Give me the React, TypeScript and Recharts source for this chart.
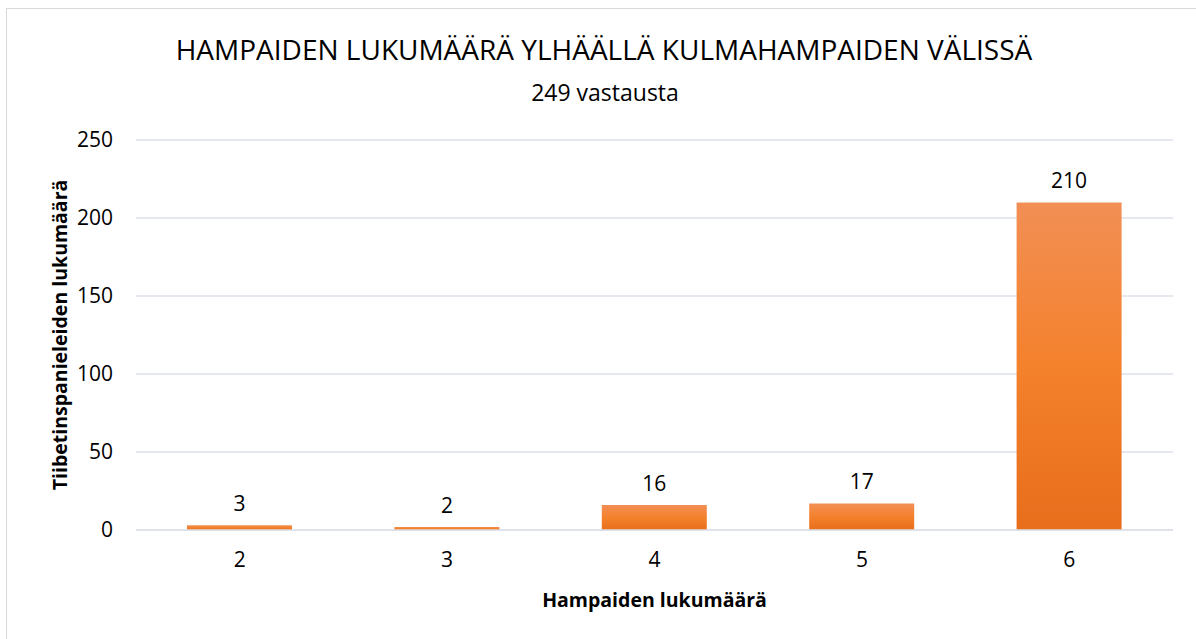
import React from "react";
import { BarChart, Bar, XAxis, YAxis, CartesianGrid, LabelList } from "recharts";

const teethCounts = ["2", "3", "4", "5", "6"];
const dogCounts = [3, 2, 16, 17, 210];
const yTicks = [0, 50, 100, 150, 200, 250];

const data = teethCounts.map((t, i) => ({ teeth: t, dogs: dogCounts[i] }));

const font = "'Open Sans', sans-serif";
const tickStyle = { fill: "#000", fontSize: 21, fontFamily: font };

export default function App() {
  return (
    <div
      style={{
        position: "absolute",
        left: 0,
        top: 0,
        width: 1196,
        height: 639,
        background: "#fff",
        overflow: "hidden",
        fontFamily: font,
      }}
    >
      <div
        style={{
          position: "absolute",
          left: 6,
          top: 8,
          width: 1200,
          height: 640,
          border: "1px solid #d9d9d9",
        }}
      />
      <div
        style={{
          position: "absolute",
          left: 0,
          top: 30,
          width: 1208,
          textAlign: "center",
          fontSize: 28,
          lineHeight: "38px",
          color: "#000",
        }}
      >
        HAMPAIDEN LUKUMÄÄRÄ YLHÄÄLLÄ KULMAHAMPAIDEN VÄLISSÄ
      </div>
      <div
        style={{
          position: "absolute",
          left: 0,
          top: 76,
          width: 1210,
          textAlign: "center",
          fontSize: 23,
          lineHeight: "32px",
          color: "#000",
        }}
      >
        249 vastausta
      </div>
      <div style={{ position: "absolute", left: 0, top: 0 }}>
        <BarChart
          width={1196}
          height={639}
          data={data}
          margin={{ top: 140, right: 23, left: 56, bottom: 79 }}
        >
          <defs>
            <linearGradient id="barFill" x1="0" y1="0" x2="0" y2="1">
              <stop offset="0%" stopColor="#f28f55" />
              <stop offset="50%" stopColor="#f4812c" />
              <stop offset="100%" stopColor="#e86e1c" />
            </linearGradient>
          </defs>
          <CartesianGrid vertical={false} stroke="#dde1e8" strokeWidth={1.5} />
          <XAxis
            dataKey="teeth"
            height={30}
            tick={tickStyle}
            tickLine={false}
            axisLine={{ stroke: "#dde1e8", strokeWidth: 1.5 }}
            tickMargin={16}
            label={{
              value: "Hampaiden lukumäärä",
              position: "insideBottom",
              offset: -47,
              style: { fill: "#000", fontSize: 19.5, fontWeight: 700, fontFamily: font },
            }}
          />
          <YAxis
            width={80}
            domain={[0, 250]}
            ticks={yTicks}
            tick={tickStyle}
            tickLine={false}
            axisLine={false}
            tickMargin={17}
            label={{
              value: "Tiibetinspanieleiden lukumäärä",
              angle: -90,
              position: "insideLeft",
              offset: 4,
              style: {
                fill: "#000",
                fontSize: 19.5,
                fontWeight: 700,
                fontFamily: font,
                textAnchor: "middle",
              },
            }}
          />
          <Bar dataKey="dogs" fill="url(#barFill)" barSize={105} isAnimationActive={false}>
            <LabelList
              dataKey="dogs"
              position="top"
              offset={14}
              style={{ fill: "#000", fontSize: 21, fontFamily: font }}
            />
          </Bar>
        </BarChart>
      </div>
    </div>
  );
}
